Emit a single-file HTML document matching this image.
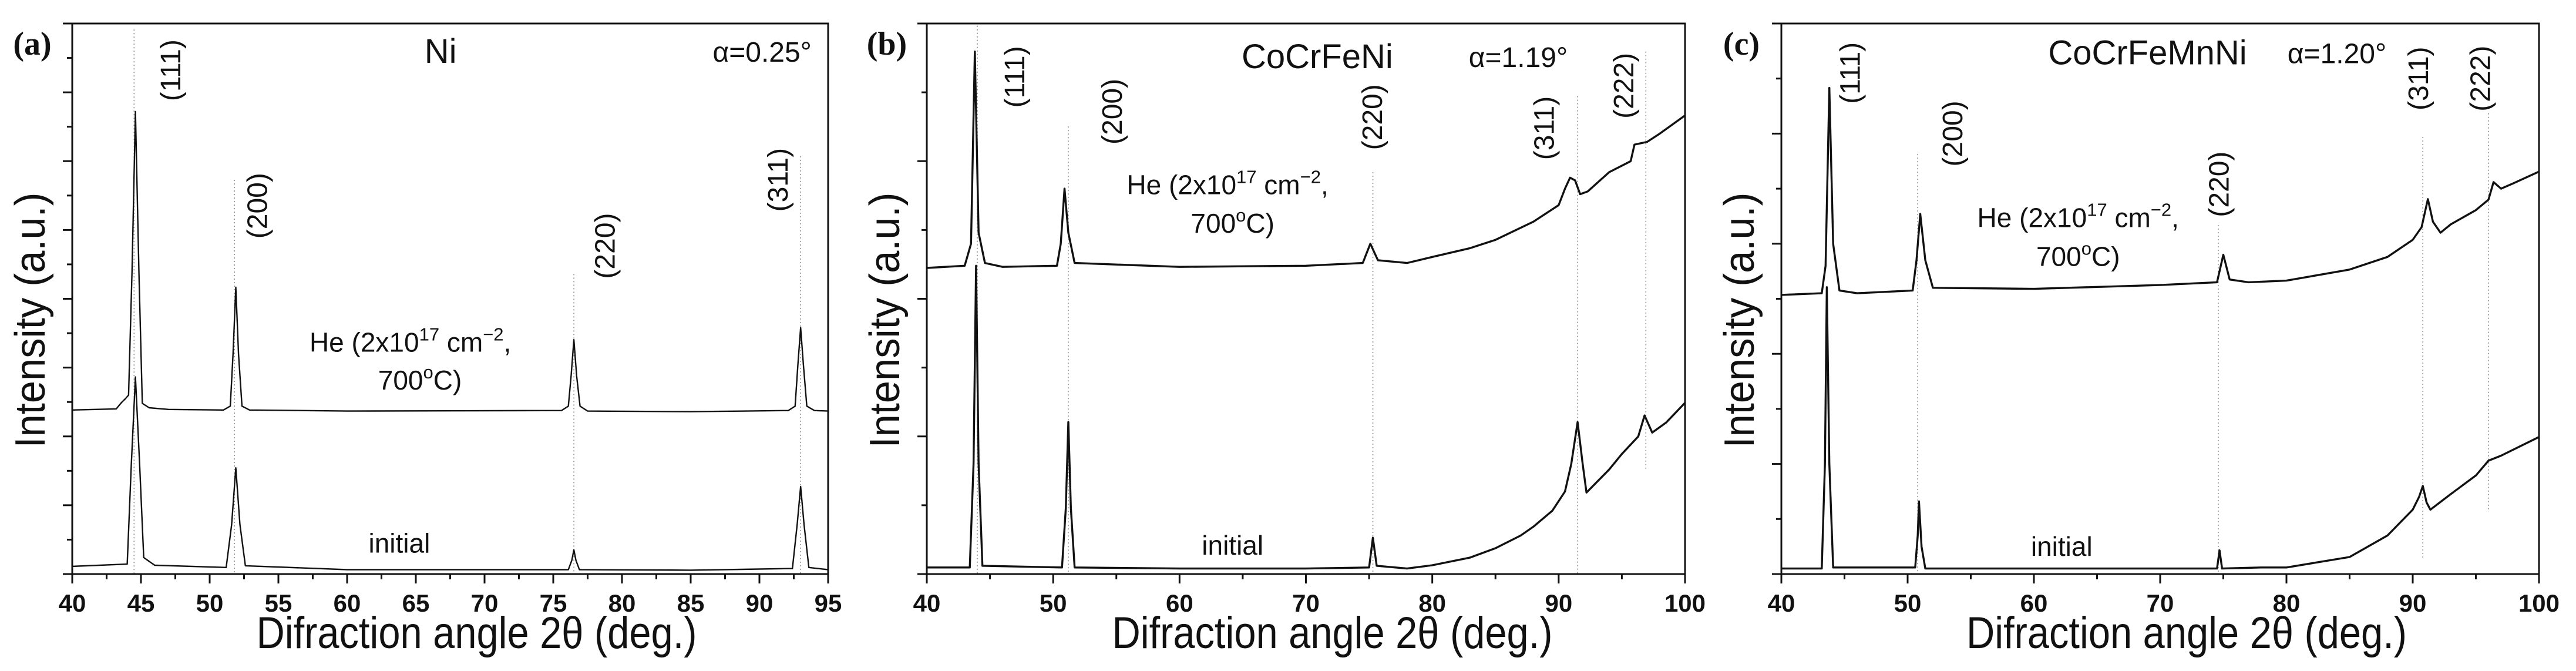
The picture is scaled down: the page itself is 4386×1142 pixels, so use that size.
<!DOCTYPE html>
<html><head><meta charset="utf-8"><style>
html,body{margin:0;padding:0;background:#fff}
svg{display:block}
text{font-family:"Liberation Sans",sans-serif;fill:#111}
</style></head><body>
<svg id="fig" width="4386" height="1142" viewBox="0 0 4386 1142" xmlns="http://www.w3.org/2000/svg"></svg>
<script>
// ---------- Panel (a) Ni ----------
const aHeX=[40,43.2,43.6,43.85,44.1,44.35,44.6,44.85,45.1,45.6,47,51.0,51.5,51.7,51.9,52.1,52.35,52.9,60,75.6,76.1,76.3,76.5,76.7,76.95,77.5,85,92.1,92.6,92.8,93.0,93.2,93.45,94,95];
const aHeY=[.298,.300,.312,.318,.325,.55,.84,.55,.31,.302,.299,.298,.305,.40,.521,.40,.305,.298,.296,.297,.305,.36,.4256,.36,.305,.296,.295,.297,.305,.38,.4475,.38,.305,.297,.296];
const aInX=[40,44.0,44.3,44.6,44.9,45.2,46,51.2,51.6,51.9,52.2,52.6,60,76.1,76.35,76.5,76.65,76.9,85,92.4,92.75,93.0,93.25,93.6,95];
const aInY=[.014,.018,.20,.358,.20,.03,.016,.012,.09,.193,.09,.015,.008,.008,.025,.044,.025,.008,.007,.01,.09,.159,.09,.012,.008];
const aRefX=[44.5,51.8,76.5,93.0];
const aRefTop=[.989,.716,.545,.759];
const aRefBot=[0,0,0,0];
const aHkl=["(111)","(200)","(220)","(311)"];
const aHklX=[47.2,53.5,78.8,91.4];
const aHklY=[.915,.669,.596,.716];
const aTicks=[40,45,50,55,60,65,70,75,80,85,90,95];
// ---------- Panel (b) CoCrFeNi ----------
const bHeX=[40,43.0,43.5,43.8,44.1,44.6,46,50.3,50.6,50.9,51.2,51.7,60,70,74.5,75.1,75.7,78,80,83,85,88,90,90.5,90.9,91.3,91.7,92.3,94,95.7,96,97,98,100];
const bHeY=[.556,.56,.60,.949,.62,.565,.558,.56,.60,.70,.62,.565,.558,.56,.565,.60,.57,.565,.576,.592,.607,.64,.67,.70,.72,.715,.69,.695,.73,.75,.78,.785,.80,.833];
const bInX=[40,43.4,43.7,43.9,44.1,44.4,50.7,51.0,51.2,51.4,51.7,60,70,75.0,75.3,75.6,78,80,83,85,87,88,89.5,90.5,91.0,91.5,91.9,92.2,94,95,96.3,96.8,97.4,98.5,100];
const bInY=[.012,.012,.2,.56,.2,.015,.012,.12,.276,.12,.012,.01,.01,.012,.066,.015,.01,.016,.03,.047,.07,.086,.115,.15,.2,.276,.2,.148,.19,.218,.25,.288,.257,.275,.311];
const bRefX=[44.0,51.2,75.3,91.5,96.9];
const bRefTop=[.996,.813,.73,.868,.949];
const bRefBot=[0,0,0,0,.19];
const bHkl=["(111)","(200)","(220)","(311)","(222)"];
const bHklX=[47.0,54.7,75.3,88.9,95.2];
const bHklY=[.903,.84,.83,.81,.887];
const bTicks=[40,50,60,70,80,90,100];
// ---------- Panel (c) CoCrFeMnNi ----------
const cHeX=[40,43.2,43.5,43.8,44.1,44.6,46,50.4,50.7,51.0,51.4,52,60,70,74.5,75.0,75.5,77,80,85,88,90,90.7,91.2,91.6,92.2,93,95,96,96.4,97,98,100];
const cHeY=[.507,.51,.56,.883,.60,.515,.51,.515,.57,.654,.57,.52,.518,.525,.53,.58,.535,.53,.533,.553,.576,.607,.63,.681,.64,.62,.635,.661,.68,.712,.70,.71,.731];
const cInX=[40,43.2,43.45,43.6,43.8,44.1,50.6,50.8,50.9,51.1,51.4,60,70,74.5,74.7,74.9,78,80,85,88,90,90.5,90.8,91.1,91.4,93,95,96,97,100];
const cInY=[.01,.01,.2,.521,.2,.012,.012,.07,.132,.05,.01,.01,.01,.01,.043,.01,.012,.012,.031,.07,.117,.14,.16,.13,.117,.145,.179,.206,.215,.249];
const cRefX=[50.8,74.6,90.8,96.0];
const cRefTop=[.763,.634,.794,.837];
const cRefBot=[0,0,.03,.113];
const cHkl=["(111)","(200)","(220)","(311)","(222)"];
const cHklX=[45.5,53.6,74.7,90.5,95.4];
const cHklY=[.91,.80,.708,.90,.90];
const cTicks=[40,50,60,70,80,90,100];

const NS="http://www.w3.org/2000/svg";
const svg=document.getElementById('fig');
function mk(tag,attrs,parent){const e=document.createElementNS(NS,tag);for(const k in attrs)e.setAttribute(k,attrs[k]);(parent||svg).appendChild(e);return e;}

const TOP=40,BOT=977,H=BOT-TOP;
const panels=[
 {id:'a',letter:'(a)',L:123,R:1410,xmin:40,xmax:95,minorStep:2.5,nY:16,he:[aHeX,aHeY],ini:[aInX,aInY],ref:[aRefX,aRefTop,aRefBot],hkl:[aHkl,aHklX,aHklY],ticks:aTicks,
  title:'Ni',titleX:66.8,titleY:.95,alpha:'α=0.25°',alphaX:90.2,heX:64.6,heY:.404,h2X:65.3,h2Y:.335,inX:63.8,inY:.039},
 {id:'b',letter:'(b)',L:1578,R:2869,xmin:40,xmax:100,minorStep:5,nY:8,he:[bHeX,bHeY],ini:[bInX,bInY],ref:[bRefX,bRefTop,bRefBot],hkl:[bHkl,bHklX,bHklY],ticks:bTicks,
  title:'CoCrFeNi',titleX:70.9,titleY:.94,alpha:'α=1.19°',alphaX:86.8,heX:63.8,heY:.69,h2X:64.2,h2Y:.62,inX:64.2,inY:.035},
 {id:'c',letter:'(c)',L:3033,R:4323,xmin:40,xmax:100,minorStep:5,nY:10,he:[cHeX,cHeY],ini:[cInX,cInY],ref:[cRefX,cRefTop,cRefBot],hkl:[cHkl,cHklX,cHklY],ticks:cTicks,
  title:'CoCrFeMnNi',titleX:69,titleY:.947,alpha:'α=1.20°',alphaX:84.0,heX:63.5,heY:.63,h2X:63.5,h2Y:.56,inX:62.2,inY:.033}
];

panels.forEach(p=>{
 const g=mk('g',{});
 
 
 const sx=v=>p.L+(v-p.xmin)/(p.xmax-p.xmin)*(p.R-p.L);
 const sy=f=>BOT-f*H;
 p.ref[0].forEach((x,i)=>{
  const l=mk('line',{x1:sx(x),x2:sx(x),y1:sy(p.ref[1][i]),y2:sy(p.ref[2][i]),stroke:'#8a8a8a','stroke-width':1.6,'stroke-dasharray':'2 4'},g);
  
  
 });
 [[p.he,'he-pattern'],[p.ini,'initial-pattern']].forEach(([s,name])=>{
  const d=s[0].map((x,i)=>(i?'L':'M')+sx(x).toFixed(1)+' '+sy(s[1][i]).toFixed(1)).join(' ');
  const path=mk('path',{d:d,fill:'none',stroke:'#111','stroke-width':p.id==='a'?2.4:3.4,'stroke-linejoin':'round'},g);
  
  
 });
 const fr=mk('rect',{x:p.L,y:TOP,width:p.R-p.L,height:H,fill:'none',stroke:'#111','stroke-width':3},g);
 
 
 for(let k=0;k<=p.nY;k++){
  const y=BOT-k*H/p.nY, major=k%2===0;
  const t=mk('line',{x1:p.L-(major?16:9),x2:p.L,y1:y,y2:y,stroke:'#111','stroke-width':3},g);
  
  
 }
 for(let v=p.xmin;v<=p.xmax+1e-6;v+=p.minorStep){
  const major=p.ticks.some(t=>Math.abs(t-v)<1e-6);
  const t=mk('line',{x1:sx(v),x2:sx(v),y1:BOT,y2:BOT+(major?16:9),stroke:'#111','stroke-width':3},g);
  
  
 }
 p.ticks.forEach(v=>{
  const t=mk('text',{x:sx(v),y:1041,'text-anchor':'middle','font-size':42,'font-weight':'bold'},g);
  t.textContent=v;
  
  
 });
 const xt=mk('text',{x:(p.L+p.R)/2+45,y:1103,'text-anchor':'middle','font-size':76,textLength:750,lengthAdjust:'spacingAndGlyphs'},g);
 xt.textContent='Difraction angle 2θ (deg.)';
 
 
 const yx=p.L-47, yy=545;
 const yt=mk('text',{x:yx,y:yy,'text-anchor':'middle','font-size':72,textLength:435,lengthAdjust:'spacingAndGlyphs',transform:`rotate(-90 ${yx} ${yy})`},g);
 yt.textContent='Intensity (a.u.)';
 
 
 const pl=mk('text',{x:p.L-68,y:93,'text-anchor':'middle','font-size':56,'font-weight':'bold',style:'font-family:"Liberation Serif",serif'},g);
 pl.textContent=p.letter;
 
 
 p.hkl[0].forEach((s,i)=>{
  const x=sx(p.hkl[1][i]), y=sy(p.hkl[2][i]);
  const t=mk('text',{x:x,y:y,'text-anchor':'middle','dominant-baseline':'central','font-size':48,transform:`rotate(-90 ${x} ${y})`},g);
  t.textContent=s;
  
  
 });
 const st=mk('text',{x:sx(p.titleX),y:sy(p.titleY)+20,'text-anchor':'middle','font-size':58},g);
 st.textContent=p.title;
 
 
 const al=mk('text',{x:sx(p.alphaX),y:sy(p.titleY)+18,'text-anchor':'middle','font-size':48},g);
 al.textContent=p.alpha;
 
 
 const he=mk('text',{x:sx(p.heX),y:sy(p.heY),'text-anchor':'middle','font-size':46},g);
 he.innerHTML='He (2x10<tspan dy="-19" font-size="31">17</tspan><tspan dy="19"> cm</tspan><tspan dy="-19" font-size="31">−2</tspan><tspan dy="19">,</tspan>';
 
 
 const h2=mk('text',{x:sx(p.h2X),y:sy(p.h2Y),'text-anchor':'middle','font-size':46},g);
 h2.innerHTML='700<tspan dy="-19" font-size="31">o</tspan><tspan dy="19">C)</tspan>';
 
 
 const ini=mk('text',{x:sx(p.inX),y:sy(p.inY),'text-anchor':'middle','font-size':46},g);
 ini.textContent='initial';
 
 
});
</script>
</body></html>
